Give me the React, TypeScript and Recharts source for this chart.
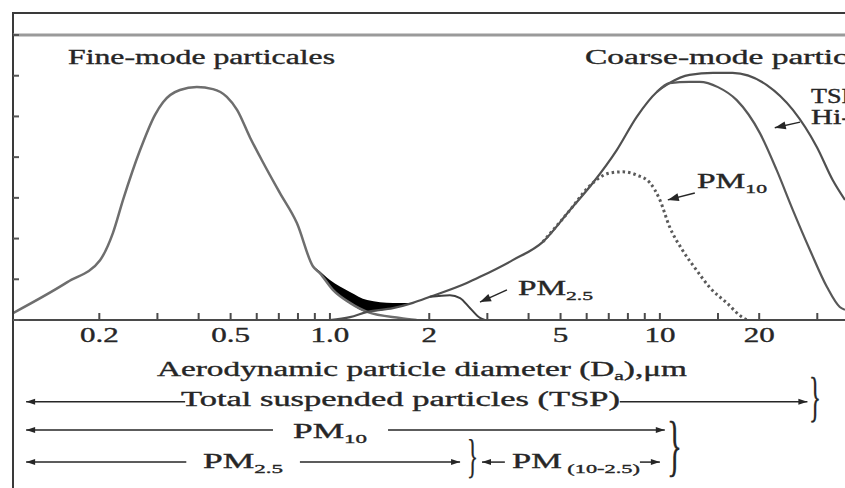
import React from 'react';
import { ComposedChart, Line, Area, XAxis, YAxis, ReferenceLine, Customized } from 'recharts';

const W = 845;
const H = 488;
const FONT = "'Liberation Serif', 'Times New Roman', Times, serif";
const INK = '#262626';

// axes
const X_DOMAIN = [0.1095, 36.4];
const Y_DOMAIN = [0, 7];
const majorTicks = [0.2, 0.5, 1, 2, 5, 10, 20];
const majorTickLabels = ['0.2', '0.5', '1.0', '2', '5', '10', '20'];
const minorTicks = [0.3, 0.4, 0.6, 0.7, 0.8, 0.9, 3, 4, 6, 7, 8, 9, 15, 30];
const yTicks = [0, 1, 2, 3, 4, 5, 6, 7];
const allTicks = [...majorTicks, ...minorTicks].sort((a, b) => a - b);

// curves: d = aerodynamic diameter (um), v = relative mass concentration
const fineMode = [
  { d: 0.1095, v: 0.17 }, { d: 0.16, v: 0.93 }, { d: 0.201, v: 1.47 }, { d: 0.22, v: 2.14 },
  { d: 0.236, v: 2.95 }, { d: 0.266, v: 4.18 }, { d: 0.295, v: 5.04 }, { d: 0.312, v: 5.35 },
  { d: 0.351, v: 5.65 }, { d: 0.395, v: 5.72 }, { d: 0.442, v: 5.67 }, { d: 0.487, v: 5.48 },
  { d: 0.523, v: 5.16 }, { d: 0.572, v: 4.49 }, { d: 0.626, v: 3.88 }, { d: 0.705, v: 3.12 },
  { d: 0.794, v: 2.38 }, { d: 0.888, v: 1.32 }, { d: 0.932, v: 1.15 }, { d: 1.021, v: 0.74 },
  { d: 1.15, v: 0.42 }, { d: 1.297, v: 0.2 }, { d: 1.63, v: 0.05 }, { d: 1.83, v: 0 },
];

const coarseMode = [
  { d: 1.0, v: 0 }, { d: 1.15, v: 0.07 }, { d: 1.297, v: 0.2 }, { d: 1.552, v: 0.29 },
  { d: 1.784, v: 0.42 }, { d: 2.01, v: 0.57 },
  { d: 2.6, v: 0.91 }, { d: 2.85, v: 1.06 }, { d: 3.58, v: 1.47 }, { d: 4.42, v: 1.92 },
  { d: 5.34, v: 2.7 }, { d: 6.27, v: 3.37 }, { d: 7.41, v: 4.18 }, { d: 8.51, v: 4.99 },
  { d: 9.79, v: 5.6 }, { d: 10.7, v: 5.82 }, { d: 12.3, v: 6.02 }, { d: 14.5, v: 6.07 },
  { d: 16.6, v: 6.07 }, { d: 21.1, v: 5.77 }, { d: 25.3, v: 5.16 }, { d: 29.9, v: 4.25 },
  { d: 33.4, v: 3.44 }, { d: 36.4, v: 2.95 },
];

const tspHiVol = [
  { d: 9.79, v: 5.6 }, { d: 10.7, v: 5.82 }, { d: 12.3, v: 5.85 }, { d: 13.2, v: 5.85 },
  { d: 15.0, v: 5.72 }, { d: 17.1, v: 5.4 }, { d: 20.1, v: 4.59 }, { d: 22.6, v: 3.68 },
  { d: 25.3, v: 2.7 }, { d: 28.5, v: 1.72 }, { d: 32.1, v: 0.81 }, { d: 35.1, v: 0.32 },
  { d: 36.4, v: 0.25 },
];

const pm10 = [
  { d: 4.42, v: 1.92 }, { d: 5.34, v: 2.7 }, { d: 6.1, v: 3.28 }, { d: 7.05, v: 3.61 },
  { d: 7.73, v: 3.64 }, { d: 8.51, v: 3.56 }, { d: 9.33, v: 3.37 }, { d: 10.0, v: 2.95 },
  { d: 10.7, v: 2.29 }, { d: 11.7, v: 1.72 }, { d: 12.9, v: 1.23 }, { d: 14.2, v: 0.79 },
  { d: 15.95, v: 0.42 }, { d: 17.9, v: 0.05 }, { d: 18.4, v: 0 },
];

const pm25 = [
  { d: 2.01, v: 0.57 }, { d: 2.31, v: 0.61 }, { d: 2.48, v: 0.54 }, { d: 2.66, v: 0.29 },
  { d: 2.85, v: 0.05 }, { d: 2.95, v: 0 },
];

// overlap of fine and coarse modes (shaded)
const overlapBand = [
  { d: 0.888, r: [1.32, 1.32] }, { d: 0.932, r: [1.15, 1.2] }, { d: 1.0, r: [0.82, 0.98] },
  { d: 1.15, r: [0.42, 0.69] }, { d: 1.297, r: [0.2, 0.49] }, { d: 1.552, r: [0.29, 0.42] },
  { d: 1.784, r: [0.42, 0.42] },
];

// size-range arrows below the axis (levels in y units)
const rangeArrows = [
  { from: 0.12, to: 0.364, level: -2.01, head: 'start' },
  { from: 7.56, to: 28, level: -2.01, head: 'end' },
  { from: 0.12, to: 0.672, level: -2.7, head: 'start' },
  { from: 1.5, to: 10.35, level: -2.7, head: 'end' },
  { from: 0.12, to: 0.367, level: -3.49, head: 'start' },
  { from: 0.811, to: 2.48, level: -3.49, head: 'end' },
  { from: 2.89, to: 3.39, level: -3.49, head: 'start' },
  { from: 8.7, to: 10.0, level: -3.49, head: 'end' },
];

// label pointer arrows
const pointerArrows = [
  { from: { d: 3.44, v: 0.74 }, to: { d: 2.85, v: 0.44 } },
  { from: { d: 12.76, v: 3.12 }, to: { d: 10.57, v: 2.95 } },
  { from: { d: 26.6, v: 4.86 }, to: { d: 22.3, v: 4.72 } },
];

function arrowShape(head: string, size: number, half: number, sw: number) {
  return (p: any) => {
    const { x1, y1, x2, y2 } = p;
    const dx = x2 - x1;
    const dy = y2 - y1;
    const L = Math.hypot(dx, dy) || 1;
    const ux = dx / L;
    const uy = dy / L;
    const nx = -uy;
    const ny = ux;
    const tri = (tx: number, ty: number, sx: number, sy: number) =>
      `${tx},${ty} ${tx - sx * size + nx * half},${ty - sy * size + ny * half} ${tx - sx * size - nx * half},${ty - sy * size - ny * half}`;
    return (
      <g>
        <line x1={x1} y1={y1} x2={x2} y2={y2} stroke={INK} strokeWidth={sw} />
        {(head === 'end' || head === 'both') && <polygon points={tri(x2, y2, ux, uy)} fill={INK} />}
        {(head === 'start' || head === 'both') && <polygon points={tri(x1, y1, -ux, -uy)} fill={INK} />}
      </g>
    );
  };
}

function XTick(props: any) {
  const { x, y, payload } = props;
  const i = majorTicks.indexOf(payload.value);
  if (i < 0) return <g />;
  return (
    <g transform={`translate(${x},${y + 15})`}>
      <text transform="scale(1.55,1)" textAnchor="middle" fontSize={20} fontFamily={FONT} fill={INK} stroke={INK} strokeWidth={0.35}>
        {majorTickLabels[i]}
      </text>
    </g>
  );
}

function T(props: any) {
  const { x, y, w, size = 20, children } = props;
  return (
    <text x={x} y={y} fontSize={size} textLength={w} lengthAdjust="spacingAndGlyphs" fill={INK} stroke={INK} strokeWidth={0.35} fontFamily={FONT}>
      {children}
    </text>
  );
}

function Annotations() {
  return (
    <g>
      <line x1={12} y1={13} x2={W} y2={13} stroke="#3a3a3a" strokeWidth={2} />
      <line x1={13} y1={12} x2={13} y2={H} stroke="#3a3a3a" strokeWidth={2} />
      <T x={68} y={64} w={267}>Fine-mode particales</T>
      <T x={585} y={64} w={300}>Coarse-mode particles</T>
      <T x={811} y={103} w={45}>TSP</T>
      <T x={811} y={124} w={82}>Hi-Vol</T>
      <T x={697} y={188} w={70}>PM<tspan fontSize={13} dy={5}>10</tspan></T>
      <T x={518} y={295} w={75}>PM<tspan fontSize={13} dy={5}>2.5</tspan></T>
      <T x={157} y={376} w={530}>
        Aerodynamic particle diameter (D<tspan fontSize={13} dy={4}>a</tspan><tspan dy={-4}>),μm</tspan>
      </T>
      <T x={181} y={406} w={439}>Total suspended particles (TSP)</T>
      <T x={293} y={438} w={74}>PM<tspan fontSize={13} dy={5}>10</tspan></T>
      <T x={203} y={468} w={80}>PM<tspan fontSize={13} dy={5}>2.5</tspan></T>
      <T x={512} y={468} w={128}>PM<tspan fontSize={13} dy={5}> (10-2.5)</tspan></T>
      <T x={809} y={415} w={12} size={54}>{'}'}</T>
      <T x={667} y={468} w={15} size={68}>{'}'}</T>
      <T x={467} y={472} w={11} size={46}>{'}'}</T>
    </g>
  );
}

export default function App() {
  return (
    <div style={{ position: 'absolute', left: 0, top: 0, width: W, height: H, background: '#fff', overflow: 'hidden' }}>
      <ComposedChart width={W} height={H} margin={{ top: 35, right: 0, left: 13, bottom: 138 }}>
        <XAxis
          type="number"
          dataKey="d"
          scale="log"
          domain={X_DOMAIN}
          allowDataOverflow
          ticks={allTicks}
          interval={0}
          height={30}
          tickSize={-7}
          tickMargin={14}
          tick={<XTick />}
          axisLine={{ stroke: '#4a4a4a', strokeWidth: 2 }}
          tickLine={{ stroke: '#4a4a4a', strokeWidth: 2 }}
        />
        <YAxis
          type="number"
          domain={Y_DOMAIN}
          allowDataOverflow
          ticks={yTicks}
          interval={0}
          mirror
          tickSize={6}
          tickFormatter={() => ''}
          axisLine={{ stroke: '#3a3a3a', strokeWidth: 2 }}
          tickLine={{ stroke: '#555', strokeWidth: 2 }}
        />
        <ReferenceLine y={7} stroke="#9a9a9a" strokeWidth={3} ifOverflow="visible" />
        <Line data={fineMode} dataKey="v" type="monotone" stroke="#6e6e6e" strokeWidth={2.5} dot={false} activeDot={false} isAnimationActive={false} />
        <Line data={coarseMode} dataKey="v" type="monotone" stroke="#505050" strokeWidth={2.2} dot={false} activeDot={false} isAnimationActive={false} />
        <Line data={tspHiVol} dataKey="v" type="monotone" stroke="#585858" strokeWidth={2.2} dot={false} activeDot={false} isAnimationActive={false} />
        <Line data={pm10} dataKey="v" type="monotone" stroke="#5a5a5a" strokeWidth={3} strokeDasharray="2.5 3" dot={false} activeDot={false} isAnimationActive={false} />
        <Line data={pm25} dataKey="v" type="monotone" stroke="#404040" strokeWidth={2} dot={false} activeDot={false} isAnimationActive={false} />
        <Area data={overlapBand} dataKey="r" type="monotone" fill="#000" fillOpacity={1} stroke="none" isAnimationActive={false} />
        {rangeArrows.map((a, i) => (
          <ReferenceLine
            key={`r${i}`}
            segment={[{ x: a.from, y: a.level }, { x: a.to, y: a.level }]}
            ifOverflow="visible"
            shape={arrowShape(a.head, 9, 3, 1.5)}
          />
        ))}
        {pointerArrows.map((a, i) => (
          <ReferenceLine
            key={`p${i}`}
            segment={[{ x: a.from.d, y: a.from.v }, { x: a.to.d, y: a.to.v }]}
            ifOverflow="visible"
            shape={arrowShape('end', 11, 4, 1.5)}
          />
        ))}
        <Customized component={Annotations} />
      </ComposedChart>
    </div>
  );
}
